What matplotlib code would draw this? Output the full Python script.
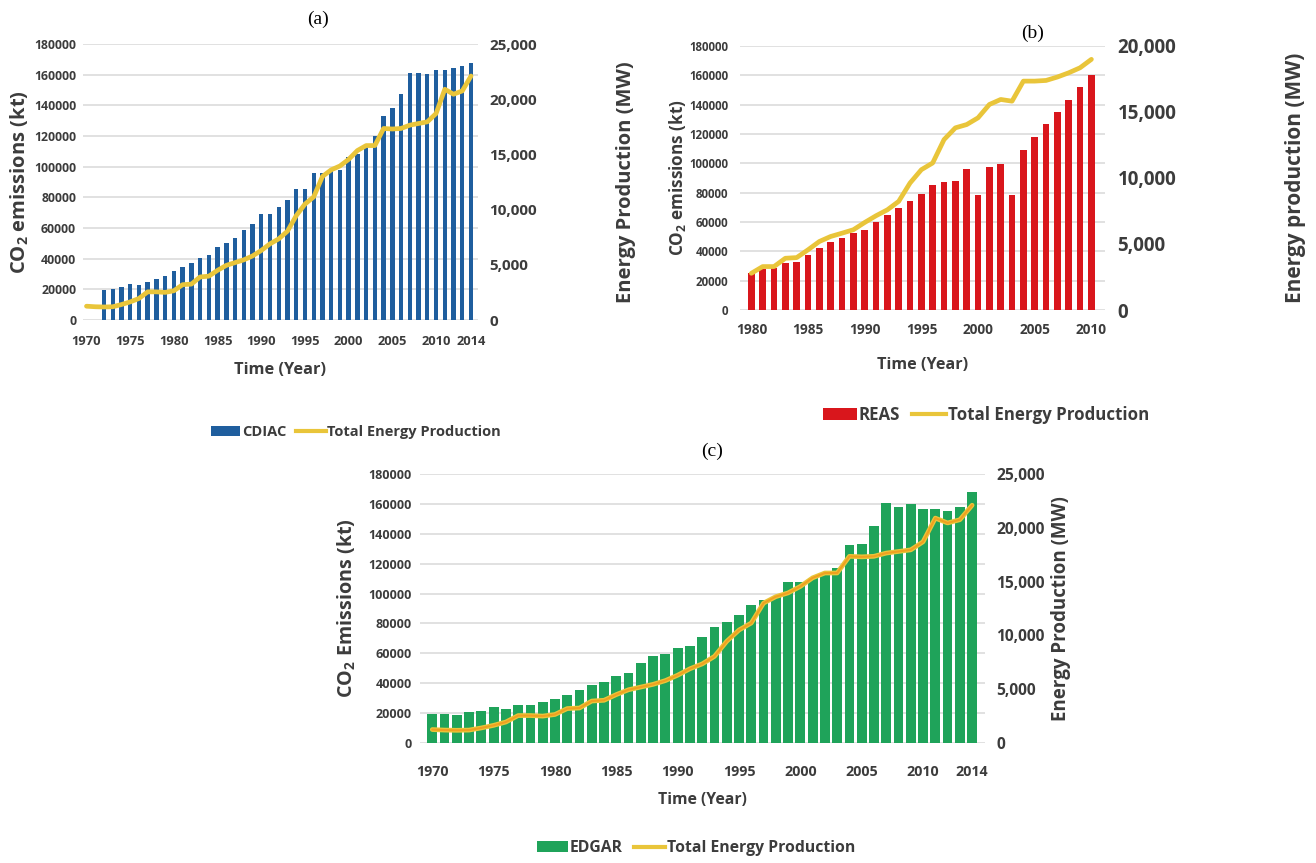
import matplotlib
matplotlib.use("Agg")
import matplotlib.pyplot as plt
from matplotlib.ticker import FuncFormatter
from matplotlib.lines import Line2D
from matplotlib.patches import Patch

plt.rcParams['font.family'] = ['Open Sans', 'DejaVu Sans']
plt.rcParams['mathtext.default'] = 'regular'

# ---------------- data ----------------
years_cdiac = list(range(1972, 2015))
cdiac = [19600, 20200, 21700, 23400, 23000, 25100, 26700, 29000, 32000, 34300,
         37400, 40500, 42700, 47600, 50000, 53800, 58600, 62400, 69300, 69300,
         73900, 78300, 85600, 85600, 96000, 96000, 97800, 97800, 106500, 108300,
         112600, 120000, 133000, 138300, 147500, 161000, 161000, 160500, 163000, 163000,
         164500, 165500, 167700]

years_energy = list(range(1970, 2015))
energy = [1250, 1200, 1180, 1200, 1400, 1640, 1950, 2550, 2550, 2500,
          2650, 3200, 3250, 3900, 3970, 4500, 4950, 5200, 5450, 5800,
          6300, 6900, 7350, 8050, 9450, 10500, 11150, 13000, 13600, 13950,
          14550, 15350, 15800, 15800, 17350, 17300, 17350, 17650, 17800, 17950,
          18700, 20900, 20450, 20750, 22100]

years_reas = list(range(1980, 2011))
reas = [25000, 27800, 28500, 31900, 33000, 37600, 42100, 46700, 49000, 52400,
        54700, 60000, 64900, 69700, 74000, 79400, 85300, 87600, 88200, 96400,
        78300, 97300, 99600, 78300, 109400, 117800, 126900, 134900, 143500, 151900,
        159900]
energy_reas = [2780, 3290, 3290, 3920, 3970, 4560, 5190, 5570, 5820, 6080,
               6630, 7140, 7590, 8230, 9620, 10630, 11140, 12910, 13800, 14050,
               14560, 15570, 15950, 15820, 17340, 17340, 17390, 17650, 17970, 18350,
               18990]

years_edgar = list(range(1970, 2015))
edgar = [19400, 19400, 19000, 20700, 21200, 23900, 22700, 25200, 25200, 27600,
         29700, 31900, 35700, 38600, 40800, 44800, 46800, 53500, 58400, 59800,
         63500, 65000, 71200, 77400, 80700, 85800, 92500, 96000, 98000, 107500,
         108000, 110500, 113000, 117000, 132700, 133400, 145400, 160500, 157600, 160100,
         156500, 156800, 155000, 157600, 167900]

left_ticks = list(range(0, 180001, 20000))

# ---------------- figure ----------------
W, H = 1316, 863
fig = plt.figure(figsize=(W / 100, H / 100), dpi=100)

TXT = '#3c3c3c'
GRID = '#d9d9d9'
LINE = '#e9c53a'


def px_axes(l, t, r, b):
    return fig.add_axes([l / W, 1 - b / H, (r - l) / W, (b - t) / H])


def draw_panel(box, xlim, bx, by, bw, bcolor, lx, ly, rmax, xticks, pads, fs,
               left_label, right_label, lab_x, title, title_xy, xlab_y,
               legend_name, legend_xy, line_core=None):
    ax = px_axes(*box)
    ax.set_xlim(*xlim)
    ax.set_ylim(0, 180000)
    ax.set_yticks(left_ticks)
    ax.set_axisbelow(True)
    ax.yaxis.grid(True, color=GRID, lw=1.1)
    for s in ax.spines.values():
        s.set_visible(False)
    ax.bar(bx, by, width=bw, color=bcolor, zorder=2)
    ax.set_xticks(xticks)
    ax.set_xticklabels([str(v) for v in xticks])
    ax.tick_params(axis='both', length=0, labelcolor=TXT)
    ax.tick_params(axis='y', pad=pads[0], labelsize=fs['ly'])
    ax.tick_params(axis='x', pad=pads[2], labelsize=fs['x'])
    for t in ax.get_xticklabels() + ax.get_yticklabels():
        t.set_fontweight('bold')

    ax2 = ax.twinx()
    ax2.set_ylim(0, rmax)
    ax2.set_yticks(list(range(0, rmax + 1, 5000)))
    ax2.yaxis.set_major_formatter(FuncFormatter(lambda v, p: f"{int(v):,}"))
    ax2.tick_params(axis='y', length=0, labelsize=fs['ry'], labelcolor=TXT, pad=pads[1])
    for t in ax2.get_yticklabels():
        t.set_fontweight('bold')
    for s in ax2.spines.values():
        s.set_visible(False)
    ax2.plot(lx, ly, color=LINE, lw=3.4, solid_capstyle='round', zorder=3)
    if line_core:
        ax2.plot(lx, ly, color=line_core, lw=1.5, solid_capstyle='round', zorder=4)

    ymid = 1 - ((box[1] + box[3]) / 2) / H
    fig.text(lab_x[0] / W, ymid, left_label, rotation=90, ha='center', va='center',
             fontsize=fs['lab_l'], fontweight='bold', color=TXT)
    fig.text(lab_x[1] / W, ymid, right_label, rotation=90, ha='center', va='center',
             fontsize=fs['lab_r'], fontweight='bold', color=TXT)
    fig.text(title_xy[0] / W, 1 - title_xy[1] / H, title, ha='center', va='center',
             fontsize=14, family='Liberation Serif', color='black')
    fig.text(((box[0] + box[2]) / 2) / W, 1 - xlab_y / H, 'Time (Year)', ha='center',
             va='center', fontsize=fs['xlab'], fontweight='bold', color=TXT)

    handles = [Patch(facecolor=bcolor, edgecolor='none'),
               Line2D([0], [0], color=LINE, lw=3)]
    fig.legend(handles, [legend_name, 'Total Energy Production'], loc='center',
               bbox_to_anchor=(legend_xy[0] / W, 1 - legend_xy[1] / H), ncol=2,
               frameon=False, handlelength=2.0, handletextpad=0.12,
               columnspacing=0.7, prop={'weight': 'bold', 'size': fs['leg']},
               labelcolor=TXT)
    return ax, ax2


# (a) CDIAC
draw_panel(box=(83, 44, 478, 320), xlim=(1969.6, 2014.8),
           bx=years_cdiac, by=cdiac, bw=0.5, bcolor='#1f5e9e',
           lx=years_energy, ly=energy, rmax=25000,
           xticks=[1970, 1975, 1980, 1985, 1990, 1995, 2000, 2005, 2010, 2014],
           pads=(5, 8, 11),
           fs=dict(ly=8.8, ry=11, x=9.3, lab_l=14.5, lab_r=14.5, xlab=11.8, leg=10.5),
           left_label='CO$_2$ emissions (kt)',
           right_label='Energy Production (MW)', lab_x=(20, 626),
           title='(a)', title_xy=(318, 19), xlab_y=370,
           legend_name='CDIAC', legend_xy=(356, 432))

# (b) REAS
draw_panel(box=(740, 46, 1105, 310), xlim=(1979.0, 2011.2),
           bx=years_reas, by=reas, bw=0.58, bcolor='#d9161c',
           lx=years_reas, ly=energy_reas, rmax=20000,
           xticks=[1980, 1985, 1990, 1995, 2000, 2005, 2010],
           pads=(8.5, 9, 9),
           fs=dict(ly=8.3, ry=13.5, x=9.8, lab_l=12.3, lab_r=15, xlab=11.6, leg=12.2),
           left_label='CO$_2$ emissions (kt)',
           right_label='Energy production (MW)', lab_x=(678, 1295),
           title='(b)', title_xy=(1033, 33), xlab_y=365,
           legend_name='REAS', legend_xy=(986, 415))

# (c) EDGAR
draw_panel(box=(420, 474, 985, 743), xlim=(1969.0, 2015.05),
           bx=years_edgar, by=edgar, bw=0.8, bcolor='#1fa35a',
           lx=years_energy, ly=energy, rmax=25000,
           xticks=[1970, 1975, 1980, 1985, 1990, 1995, 2000, 2005, 2010, 2014],
           pads=(6, 8, 16),
           fs=dict(ly=9, ry=11.2, x=10.3, lab_l=14.2, lab_r=13.5, xlab=11.3, leg=11.3),
           left_label='CO$_2$ Emissions (kt)',
           right_label='Energy Production (MW)', lab_x=(347, 1061),
           title='(c)', title_xy=(712, 451), xlab_y=800,
           legend_name='EDGAR', legend_xy=(696, 848), line_core='#f0a020')

fig.savefig('out.png', dpi=100)
